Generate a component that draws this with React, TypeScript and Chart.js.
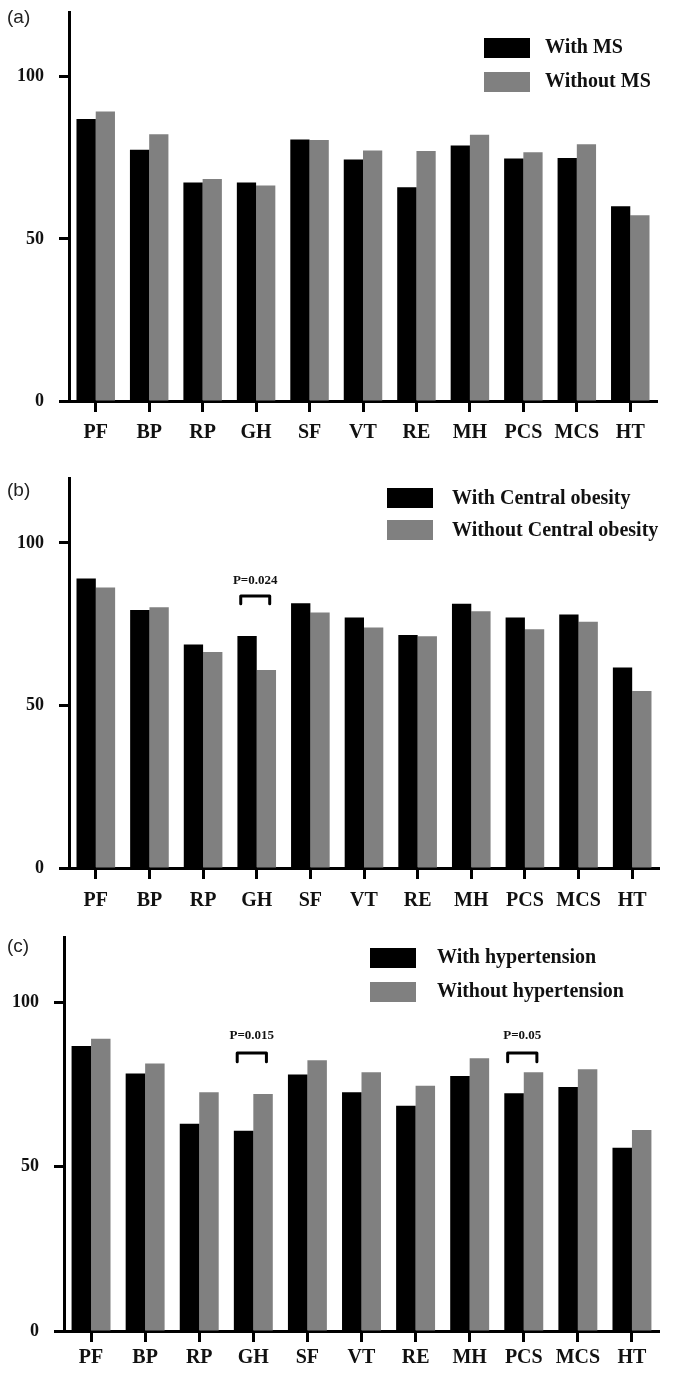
import React, { useEffect, useRef } from 'react';
import { Chart, registerables } from 'chart.js';

Chart.register(...registerables);

// ---------- data ----------
const categories = ['PF', 'BP', 'RP', 'GH', 'SF', 'VT', 'RE', 'MH', 'PCS', 'MCS', 'HT'];
const yTickValues = [0, 50, 100];
const yMax = 120;

const withMS = [87.0, 77.5, 67.4, 67.4, 80.7, 74.5, 65.9, 78.8, 74.8, 75.0, 60.1];
const withoutMS = [89.3, 82.3, 68.5, 66.5, 80.5, 77.3, 77.1, 82.1, 76.7, 79.2, 57.3];

const withObesity = [89.1, 79.4, 68.8, 71.4, 81.5, 77.1, 71.7, 81.3, 77.1, 78.0, 61.7];
const withoutObesity = [86.3, 80.2, 66.5, 60.9, 78.6, 74.0, 71.3, 79.0, 73.5, 75.8, 54.5];

const withHypertension = [86.8, 78.4, 63.1, 61.0, 78.1, 72.7, 68.6, 77.7, 72.4, 74.3, 55.8];
const withoutHypertension = [89.0, 81.5, 72.7, 72.2, 82.5, 78.8, 74.7, 83.1, 78.8, 79.7, 61.2];

const legendA = ['With MS', 'Without MS'];
const legendB = ['With Central obesity', 'Without Central obesity'];
const legendC = ['With hypertension', 'Without hypertension'];

const sigCategoriesB = ['GH'];
const sigLabelsB = ['P=0.024'];
const sigCategoriesC = ['GH', 'PCS'];
const sigLabelsC = ['P=0.015', 'P=0.05'];

// ---------- styles ----------
const BLACK = '#000000';
const GRAY = '#808080';
const SERIF = '"Liberation Serif", "Times New Roman", serif';
const SANS = '"Liberation Sans", Arial, sans-serif';
const W = 681;

type PanelCfg = {
  tag: string;
  top: number;
  height: number;
  area: { top: number; bottom: number; left: number; right: number };
  labelPad: number;
  series: number[][];
  names: string[];
  legend: { boxX: number; box1Y: number; box2Y: number; textX: number; text1Y: number; text2Y: number };
  tagY: number;
  sigCats: string[];
  sigLabels: string[];
  bracketTop: number;
  bracketLeg: number;
  sigTextY: number;
};

const panels: PanelCfg[] = [
  {
    tag: '(a)', top: 0, height: 458,
    area: { top: 12, bottom: 401, left: 69, right: 657 },
    labelPad: 9,
    series: [withMS, withoutMS], names: legendA,
    legend: { boxX: 484, box1Y: 38, box2Y: 72, textX: 545, text1Y: 48, text2Y: 82 },
    tagY: 18,
    sigCats: [], sigLabels: [],
    bracketTop: 84, bracketLeg: 81.5, sigTextY: 88.3,
  },
  {
    tag: '(b)', top: 458, height: 458,
    area: { top: 20, bottom: 410, left: 69, right: 659 },
    labelPad: 10,
    series: [withObesity, withoutObesity], names: legendB,
    legend: { boxX: 387, box1Y: 30, box2Y: 62, textX: 452, text1Y: 41, text2Y: 73 },
    tagY: 33,
    sigCats: sigCategoriesB, sigLabels: sigLabelsB,
    bracketTop: 83.7, bracketLeg: 81.3, sigTextY: 88.3,
  },
  {
    tag: '(c)', top: 916, height: 458,
    area: { top: 21, bottom: 415, left: 64, right: 659 },
    labelPad: 4,
    series: [withHypertension, withoutHypertension], names: legendC,
    legend: { boxX: 370, box1Y: 32, box2Y: 66, textX: 437, text1Y: 42, text2Y: 76 },
    tagY: 31,
    sigCats: sigCategoriesC, sigLabels: sigLabelsC,
    bracketTop: 84.7, bracketLeg: 82.0, sigTextY: 89.9,
  },
];

function makeOverlay(cfg: PanelCfg) {
  return {
    id: 'overlay' + cfg.tag,
    afterDraw(chart: any) {
      const ctx = chart.ctx as CanvasRenderingContext2D;
      const xs = chart.scales.x;
      const ys = chart.scales.y;
      ctx.save();
      // panel tag
      ctx.fillStyle = '#222';
      ctx.font = `19px ${SANS}`;
      ctx.textAlign = 'left';
      ctx.textBaseline = 'middle';
      ctx.fillText(cfg.tag, 7, cfg.tagY);

      // legend
      const L = cfg.legend;
      const boxW = 46;
      const boxH = 20;
      ctx.fillStyle = BLACK;
      ctx.fillRect(L.boxX, L.box1Y, boxW, boxH);
      ctx.fillStyle = GRAY;
      ctx.fillRect(L.boxX, L.box2Y, boxW, boxH);
      ctx.fillStyle = '#111';
      ctx.font = `bold 20px ${SERIF}`;
      ctx.fillText(cfg.names[0], L.textX, L.text1Y);
      ctx.fillText(cfg.names[1], L.textX, L.text2Y);

      // significance brackets
      const step = xs.getPixelForValue(1) - xs.getPixelForValue(0);
      cfg.sigCats.forEach((cat, i) => {
        const idx = categories.indexOf(cat);
        const cx = xs.getPixelForValue(idx) - 1.5;
        const half = step * 0.27;
        const yt = ys.getPixelForValue(cfg.bracketTop);
        const yl = ys.getPixelForValue(cfg.bracketLeg);
        ctx.strokeStyle = BLACK;
        ctx.lineWidth = 3;
        ctx.lineJoin = 'round';
        ctx.lineCap = 'round';
        ctx.beginPath();
        ctx.moveTo(cx - half, yl);
        ctx.lineTo(cx - half, yt);
        ctx.lineTo(cx + half, yt);
        ctx.lineTo(cx + half, yl);
        ctx.stroke();
        ctx.fillStyle = '#111';
        ctx.font = `bold 13px ${SERIF}`;
        ctx.textAlign = 'center';
        ctx.textBaseline = 'middle';
        ctx.fillText(cfg.sigLabels[i], cx, ys.getPixelForValue(cfg.sigTextY));
      });
      ctx.restore();
    },
  };
}

function zeroPadding(s: any) {
  s.paddingTop = 0;
  s.paddingBottom = 0;
  s.paddingLeft = 0;
  s.paddingRight = 0;
}

function Panel({ cfg }: { cfg: PanelCfg }) {
  const ref = useRef<HTMLCanvasElement>(null);
  useEffect(() => {
    if (!ref.current) return;
    const a = cfg.area;
    const chart = new Chart(ref.current, {
      type: 'bar',
      data: {
        labels: categories,
        datasets: [
          {
            label: cfg.names[0], data: cfg.series[0], backgroundColor: BLACK,
            borderWidth: 0, categoryPercentage: 0.72, barPercentage: 1.0,
          },
          {
            label: cfg.names[1], data: cfg.series[1], backgroundColor: GRAY,
            borderWidth: 0, categoryPercentage: 0.72, barPercentage: 1.0,
          },
        ],
      },
      options: {
        responsive: false,
        animation: false,
        layout: { padding: { top: a.top, right: W - a.right, left: 0, bottom: 0 } },
        plugins: { legend: { display: false }, tooltip: { enabled: false } },
        scales: {
          x: {
            z: 1,
            grid: {
              display: true, drawOnChartArea: false, drawTicks: true, offset: false,
              tickLength: 11, tickWidth: 3, color: BLACK,
            },
            border: { display: true, width: 3, color: BLACK },
            ticks: {
              color: '#111', autoSkip: false, maxRotation: 0, padding: cfg.labelPad,
              font: { family: SERIF, size: 20, weight: 'bold' },
            },
            afterFit: (s: any) => { s.height = cfg.height - a.bottom; zeroPadding(s); },
          },
          y: {
            z: 1,
            min: 0,
            max: yMax,
            afterBuildTicks: (s: any) => { s.ticks = yTickValues.map((v) => ({ value: v })); },
            grid: {
              display: true, drawOnChartArea: false, drawTicks: true,
              tickLength: 10, tickWidth: 3, color: BLACK,
            },
            border: { display: true, width: 3, color: BLACK },
            ticks: {
              color: '#111', padding: 15,
              font: { family: SERIF, size: 18, weight: 'bold' },
            },
            afterFit: (s: any) => { s.width = a.left; zeroPadding(s); },
          },
        },
      } as any,
      plugins: [makeOverlay(cfg)],
    });
    return () => chart.destroy();
  }, [cfg]);
  return (
    <canvas
      ref={ref}
      width={W}
      height={cfg.height}
      style={{ position: 'absolute', left: 0, top: cfg.top, width: W, height: cfg.height, display: 'block' }}
    />
  );
}

export default function App() {
  return (
    <div style={{ position: 'absolute', left: 0, top: 0, width: W, height: 1374, background: '#fff', overflow: 'hidden' }}>
      {panels.map((p) => (
        <Panel key={p.tag} cfg={p} />
      ))}
    </div>
  );
}
